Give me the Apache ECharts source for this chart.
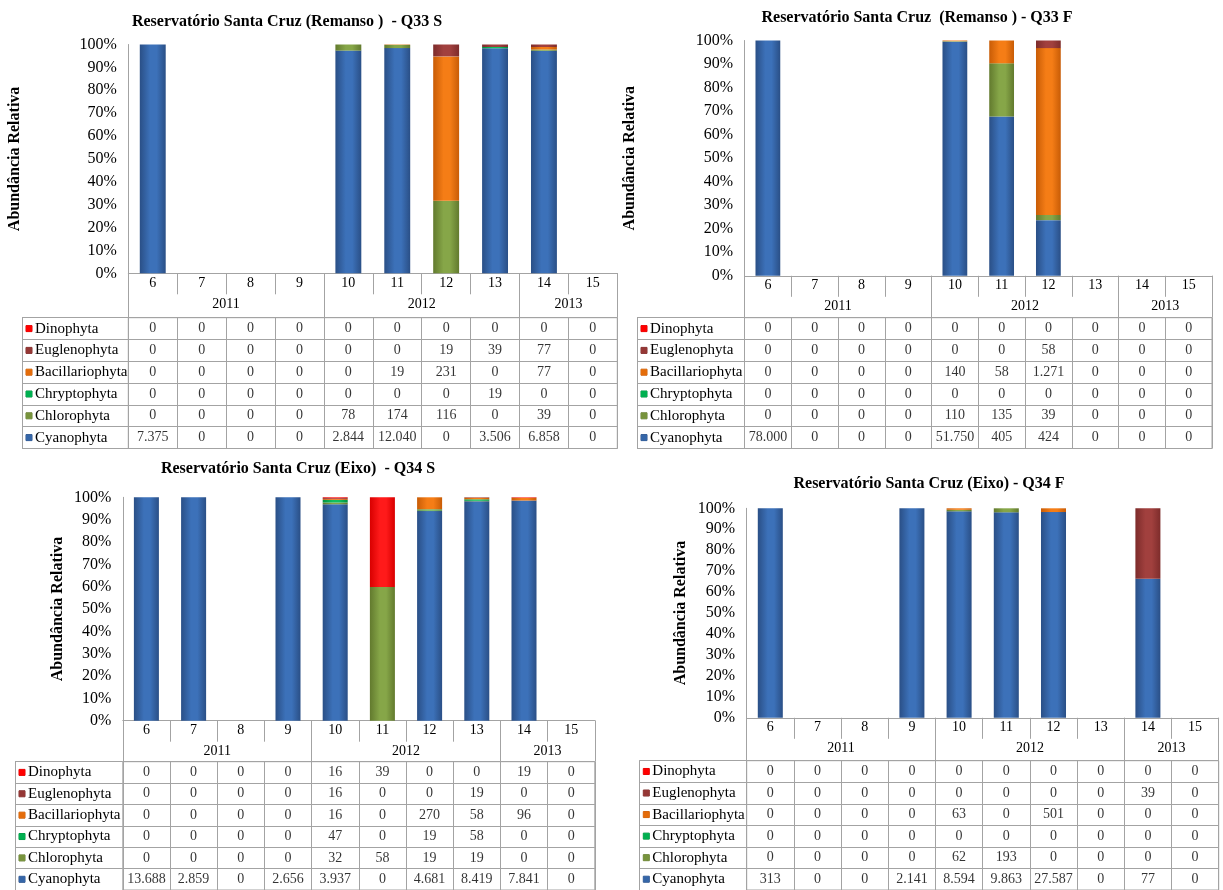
<!DOCTYPE html>
<html><head><meta charset="utf-8">
<script src="https://cdn.jsdelivr.net/npm/echarts@6/dist/echarts.min.js"></script>
<style>html,body{margin:0;padding:0;background:#fff}#c{width:1223px;height:890px}</style>
</head><body><div id="c"></div>
<script>
// ---------- data ----------
const categories = ['6','7','8','9','10','11','12','13','14','15'];
const yearOfCategory = ['2011','2011','2011','2011','2012','2012','2012','2012','2013','2013'];
const groups = ['Dinophyta','Euglenophyta','Bacillariophyta','Chryptophyta','Chlorophyta','Cyanophyta'];
const chartTitles = [
  'Reservatório Santa Cruz (Remanso )  - Q33 S',
  'Reservatório Santa Cruz  (Remanso ) - Q33 F',
  'Reservatório Santa Cruz (Eixo)  - Q34 S',
  'Reservatório Santa Cruz (Eixo) - Q34 F'
];
const yAxisTitle = 'Abundância Relativa';

// Q33 S
const q33s_dinophyta      = [0,0,0,0,0,0,0,0,0,0];
const q33s_euglenophyta   = [0,0,0,0,0,0,19,39,77,0];
const q33s_bacillariophyta= [0,0,0,0,0,19,231,0,77,0];
const q33s_chryptophyta   = [0,0,0,0,0,0,0,19,0,0];
const q33s_chlorophyta    = [0,0,0,0,78,174,116,0,39,0];
const q33s_cyanophyta     = [7375,0,0,0,2844,12040,0,3506,6858,0];
// Q33 F
const q33f_dinophyta      = [0,0,0,0,0,0,0,0,0,0];
const q33f_euglenophyta   = [0,0,0,0,0,0,58,0,0,0];
const q33f_bacillariophyta= [0,0,0,0,140,58,1271,0,0,0];
const q33f_chryptophyta   = [0,0,0,0,0,0,0,0,0,0];
const q33f_chlorophyta    = [0,0,0,0,110,135,39,0,0,0];
const q33f_cyanophyta     = [78000,0,0,0,51750,405,424,0,0,0];
// Q34 S
const q34s_dinophyta      = [0,0,0,0,16,39,0,0,19,0];
const q34s_euglenophyta   = [0,0,0,0,16,0,0,19,0,0];
const q34s_bacillariophyta= [0,0,0,0,16,0,270,58,96,0];
const q34s_chryptophyta   = [0,0,0,0,47,0,19,58,0,0];
const q34s_chlorophyta    = [0,0,0,0,32,58,19,19,0,0];
const q34s_cyanophyta     = [13688,2859,0,2656,3937,0,4681,8419,7841,0];
// Q34 F
const q34f_dinophyta      = [0,0,0,0,0,0,0,0,0,0];
const q34f_euglenophyta   = [0,0,0,0,0,0,0,0,39,0];
const q34f_bacillariophyta= [0,0,0,0,63,0,501,0,0,0];
const q34f_chryptophyta   = [0,0,0,0,0,0,0,0,0,0];
const q34f_chlorophyta    = [0,0,0,0,62,193,0,0,0,0];
const q34f_cyanophyta     = [313,0,0,2141,8594,9863,27587,0,77,0];

const panelData = [
  [q33s_dinophyta,q33s_euglenophyta,q33s_bacillariophyta,q33s_chryptophyta,q33s_chlorophyta,q33s_cyanophyta],
  [q33f_dinophyta,q33f_euglenophyta,q33f_bacillariophyta,q33f_chryptophyta,q33f_chlorophyta,q33f_cyanophyta],
  [q34s_dinophyta,q34s_euglenophyta,q34s_bacillariophyta,q34s_chryptophyta,q34s_chlorophyta,q34s_cyanophyta],
  [q34f_dinophyta,q34f_euglenophyta,q34f_bacillariophyta,q34f_chryptophyta,q34f_chlorophyta,q34f_cyanophyta]
];

// ---------- styling / layout ----------
const FONT = 'Liberation Serif';
const LINE = '#a3a3a3';
const groupColors = {
  Dinophyta:      ['#d80000','#ff1a1a','#ff0000'],
  Euglenophyta:   ['#7d2c2b','#a1403e','#953735'],
  Bacillariophyta:['#c85c06','#f57d16','#e46c0a'],
  Chryptophyta:   ['#00903f','#10c060','#00b050'],
  Chlorophyta:    ['#627a2e','#86a648','#77933c'],
  Cyanophyta:     ['#2a4f86','#3c71b9','#3566a8']
};
function grad(c){
  return {type:'linear',x:0,y:0,x2:1,y2:0,colorStops:[
    {offset:0,color:c[0]},{offset:0.4,color:c[1]},{offset:0.65,color:c[1]},{offset:1,color:c[0]}]};
}
const layouts = [
  {left:128.3, top:44.5,  width:489,   height:228.8, tableLeft:22,    tableTop:317.7, rowH:21.8, nameGap:105, tx:282, ty:9},
  {left:744.5, top:40.5,  width:467.5, height:235.3, tableLeft:637,   tableTop:317.7, rowH:21.8, nameGap:107, tx:912, ty:5},
  {left:122.8, top:497.3, width:472,   height:223.4, tableLeft:15,    tableTop:761.7, rowH:21.7, nameGap:57,  tx:293, ty:456},
  {left:746.7, top:508.3, width:472,   height:209.5, tableLeft:639.3, tableTop:760.7, rowH:21.8, nameGap:58,  tx:924, ty:471}
];

const fmt = v => String(v).replace(/\B(?=(\d{3})+(?!\d))/g, '.');

// year groups derived from yearOfCategory
const yearBounds = [0];
const yearCenters = [];
const yearAt = {};
(function(){
  let start = 0;
  for (let i = 1; i <= yearOfCategory.length; i++) {
    if (i === yearOfCategory.length || yearOfCategory[i] !== yearOfCategory[start]) {
      yearBounds.push(i);
      const c = (start + i) / 2;
      yearCenters.push(c);
      yearAt[c] = yearOfCategory[start];
      start = i;
    }
  }
})();

const grid = [], xAxis = [], yAxis = [], series = [], title = [];
const richMarkers = {t:{fontFamily:FONT,fontSize:15,color:'#000',padding:[0,0,0,3]}};
groups.forEach((g,i)=>{ richMarkers['m'+i] = {width:6,height:6,backgroundColor:groupColors[g][2],borderColor:groupColors[g][0],borderWidth:0.5}; });

layouts.forEach((L, p) => {
  const data = panelData[p];
  const totals = categories.map((_, ci) => data.reduce((s, arr) => s + arr[ci], 0));
  const axisY = L.top + L.height;

  title.push({text: chartTitles[p], left: L.tx, top: L.ty, textAlign: 'center',
    textStyle:{fontFamily:FONT,fontSize:16,fontWeight:'bold',color:'#000'}});

  // plot grid
  const gPlot = grid.length;
  grid.push({left:L.left, top:L.top, width:L.width, height:L.height, containLabel:false});
  const xCat = xAxis.length;
  xAxis.push({type:'category', gridIndex:gPlot, position:'bottom', data:categories,
    axisLine:{show:true,lineStyle:{color:LINE,width:1}},
    axisTick:{show:true,interval:0,length:21,lineStyle:{color:LINE}},
    axisLabel:{interval:0,margin:3,fontFamily:FONT,fontSize:14,color:'#000'},
    splitLine:{show:false}});
  xAxis.push({type:'value', gridIndex:gPlot, position:'bottom', min:0, max:categories.length,
    axisLine:{show:false}, splitLine:{show:false},
    axisTick:{show:true, customValues:yearBounds, length:L.tableTop-axisY, lineStyle:{color:LINE}},
    axisLabel:{show:true, customValues:yearCenters, formatter:v=>yearAt[v]||'', margin:24,
      fontFamily:FONT,fontSize:14,color:'#000'}});
  const yVal = yAxis.length;
  yAxis.push({type:'value', gridIndex:gPlot, min:0, max:100, interval:10,
    name:yAxisTitle, nameLocation:'middle', nameGap:L.nameGap,
    nameTextStyle:{fontFamily:FONT,fontSize:16,fontWeight:'bold',color:'#000'},
    axisLine:{show:true,lineStyle:{color:LINE}}, axisTick:{show:false},
    axisLabel:{formatter:'{value}%',margin:11.5,fontFamily:FONT,fontSize:16,color:'#000'},
    splitLine:{show:false}});

  // stacked bars, Cyanophyta at the bottom
  for (let gi = groups.length - 1; gi >= 0; gi--) {
    const g = groups[gi];
    series.push({type:'bar', name:g, stack:'s'+p, xAxisIndex:xCat, yAxisIndex:yVal,
      barWidth:'53%', silent:true,
      itemStyle:{color:grad(groupColors[g])},
      data: data[gi].map((v, ci) => totals[ci] ? v / totals[ci] * 100 : 0)});
  }

  // data table grid
  const gTab = grid.length;
  grid.push({left:L.left, top:L.tableTop, width:L.width, height:L.rowH*groups.length,
    show:true, borderColor:LINE, borderWidth:1, backgroundColor:'transparent'});
  const xTab = xAxis.length;
  xAxis.push({type:'category', gridIndex:gTab, position:'top', data:categories,
    axisLine:{show:false}, axisTick:{show:false}, axisLabel:{show:false},
    splitLine:{show:true,interval:0,lineStyle:{color:LINE}}});
  const yTab = yAxis.length;
  const colW = L.left - L.tableLeft;
  yAxis.push({type:'category', gridIndex:gTab, position:'left', data:groups, inverse:true,
    axisLine:{show:false},
    axisTick:{show:true,interval:0,length:colW,lineStyle:{color:LINE}},
    axisLabel:{interval:0, align:'left', margin:colW-4,
      formatter:(v)=>'{m'+groups.indexOf(v)+'|}{t|'+v+'}', rich:richMarkers},
    splitLine:{show:true,interval:0,lineStyle:{color:LINE}}});
  yAxis.push({type:'value', gridIndex:gTab, position:'left', offset:colW, min:0, max:1,
    axisLine:{show:true,lineStyle:{color:LINE}}, axisTick:{show:false},
    axisLabel:{show:false}, splitLine:{show:false}});

  const cells = [];
  groups.forEach((g, gi) => categories.forEach((c, ci) => cells.push([ci, gi, data[gi][ci]])));
  series.push({type:'scatter', xAxisIndex:xTab, yAxisIndex:yTab, silent:true,
    symbol:'rect', symbolSize:1, itemStyle:{color:'rgba(0,0,0,0)'},
    label:{show:true, position:'inside', formatter:pp=>fmt(pp.value[2]),
      fontFamily:FONT, fontSize:14, color:'#000'},
    data:cells});
});

const chart = echarts.init(document.getElementById('c'), null, {renderer:'canvas'});
chart.setOption({animation:false, backgroundColor:'#fff', title, grid, xAxis, yAxis, series});
</script></body></html>
